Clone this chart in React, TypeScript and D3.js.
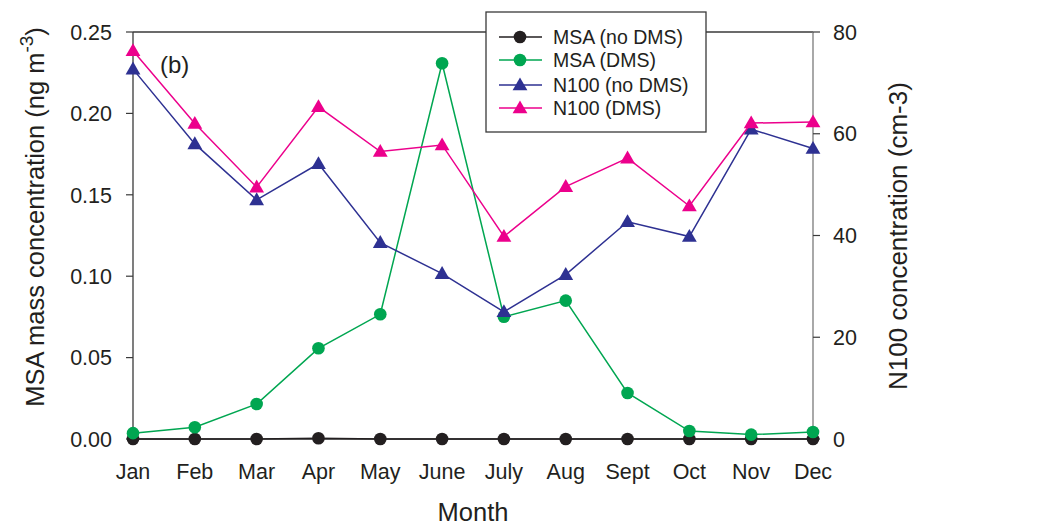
import React from "react";
import * as d3 from "d3";

const months = ["Jan", "Feb", "Mar", "Apr", "May", "June", "July", "Aug", "Sept", "Oct", "Nov", "Dec"];
const msaNoDms = [0, 0, 0, 0.0005, 0, 0, 0, 0, 0, 0, 0, 0];
const msaDms = [0.0036, 0.0072, 0.0215, 0.0557, 0.0766, 0.2308, 0.0751, 0.085, 0.0283, 0.0049, 0.0027, 0.0043];
const n100NoDms = [72.7, 58.0, 47.0, 54.1, 38.6, 32.5, 25.0, 32.3, 42.7, 39.8, 60.9, 57.1];
const n100Dms = [76.3, 62.0, 49.5, 65.3, 56.5, 57.8, 39.8, 49.6, 55.2, 45.8, 62.1, 62.3];
const leftTicks = [0, 0.05, 0.1, 0.15, 0.2, 0.25];
const rightTicks = [0, 20, 40, 60, 80];

const FONT = "'Liberation Sans', Arial, sans-serif";
const AX = "#3a3a3a";
const TXT = "#231f20";

export default function App() {
  const W = 1037, H = 525;
  const x0 = 133, x1 = 813, yTop = 32, yBot = 439;
  const x = d3.scalePoint<string>().domain(months).range([x0, x1]);
  const yL = d3.scaleLinear().domain([0, 0.25]).range([yBot, yTop]);
  const yR = d3.scaleLinear().domain([0, 80]).range([yBot, yTop]);

  const lineL = d3.line<number>().x((_, i) => x(months[i])!).y((d) => yL(d));
  const lineR = d3.line<number>().x((_, i) => x(months[i])!).y((d) => yR(d));
  const tri = d3.symbol().type(d3.symbolTriangle).size(95)();

  const series = [
    { name: "MSA (no DMS)", data: msaNoDms, color: "#231f20", left: true },
    { name: "MSA (DMS)", data: msaDms, color: "#00a651", left: true },
    { name: "N100 (no DMS)", data: n100NoDms, color: "#2e3192", left: false },
    { name: "N100 (DMS)", data: n100Dms, color: "#ec008c", left: false },
  ];

  const marker = (s: any, cx: number, cy: number, key: any) =>
    s.left ? (
      <circle key={key} cx={cx} cy={cy} r={6.3} fill={s.color} />
    ) : (
      <path key={key} d={tri!} transform={`translate(${cx},${cy + 1})`} fill={s.color} />
    );

  const legX = 486, legY = 12, legW = 220, legH = 120;
  const legRows = [37, 60, 85, 108];

  return (
    <svg width={W} height={H} style={{ position: "absolute", left: 0, top: 0, background: "#fff" }} fontFamily={FONT}>
      {/* frame */}
      <line x1={x0} x2={x1} y1={yTop} y2={yTop} stroke={AX} strokeWidth={1.3} />
      <line x1={x0} x2={x1} y1={yBot} y2={yBot} stroke={AX} strokeWidth={1.3} />
      <line x1={x0} x2={x0} y1={yTop} y2={yBot} stroke={AX} strokeWidth={1.3} />
      <line x1={x1} x2={x1} y1={yTop} y2={yBot} stroke="#7a7a7a" strokeWidth={1.3} />

      {/* left ticks */}
      {leftTicks.map((t) => (
        <g key={"l" + t}>
          <line x1={x0 - 7} x2={x0} y1={yL(t)} y2={yL(t)} stroke={AX} strokeWidth={1.2} />
          <text x={112} y={yL(t)} dy="0.36em" textAnchor="end" fontSize={21.5} fill={TXT}>
            {d3.format(".2f")(t)}
          </text>
        </g>
      ))}
      {/* right ticks */}
      {rightTicks.map((t) => (
        <g key={"r" + t}>
          <line x1={x1} x2={x1 + 7} y1={yR(t)} y2={yR(t)} stroke={AX} strokeWidth={1.2} />
          <text x={833} y={yR(t)} dy="0.36em" textAnchor="start" fontSize={21.5} fill={TXT}>
            {t}
          </text>
        </g>
      ))}
      {/* x tick labels */}
      {months.map((m) => (
        <text key={m} x={x(m)} y={479} textAnchor="middle" fontSize={21.5} fill={TXT}>
          {m}
        </text>
      ))}

      {/* axis titles */}
      <text x={473} y={521} textAnchor="middle" fontSize={25.5} fill={TXT}>Month</text>
      <text transform="translate(44,217) rotate(-90)" textAnchor="middle" fontSize={25.5} fill={TXT}>
        MSA mass concentration (ng m
        <tspan dy={-11} fontSize={19}>-3</tspan>
        <tspan dy={11}>)</tspan>
      </text>
      <text transform="translate(907,236) rotate(-90)" textAnchor="middle" fontSize={26} fill={TXT}>
        N100 concentration (cm-3)
      </text>

      <text x={160} y={73} fontSize={24} fill={TXT}>(b)</text>

      {/* series */}
      {series.map((s, si) => (
        <g key={s.name}>
          <path d={(s.left ? lineL : lineR)(s.data)!} fill="none" stroke={s.color} strokeWidth={1.5} />
          {s.data.map((v, i) => marker(s, x(months[i])!, s.left ? yL(v) : yR(v), si + "-" + i))}
        </g>
      ))}

      {/* legend */}
      <rect x={legX} y={legY} width={legW} height={legH} fill="#fff" stroke={AX} strokeWidth={1.3} />
      {series.map((s, i) => (
        <g key={"leg" + i}>
          <line x1={499} x2={542} y1={legRows[i]} y2={legRows[i]} stroke={s.color} strokeWidth={1.5} />
          {marker(s, 520, legRows[i], "lm" + i)}
          <text x={553} y={legRows[i]} dy="0.36em" fontSize={19.5} fill={TXT}>
            {s.name}
          </text>
        </g>
      ))}
    </svg>
  );
}
